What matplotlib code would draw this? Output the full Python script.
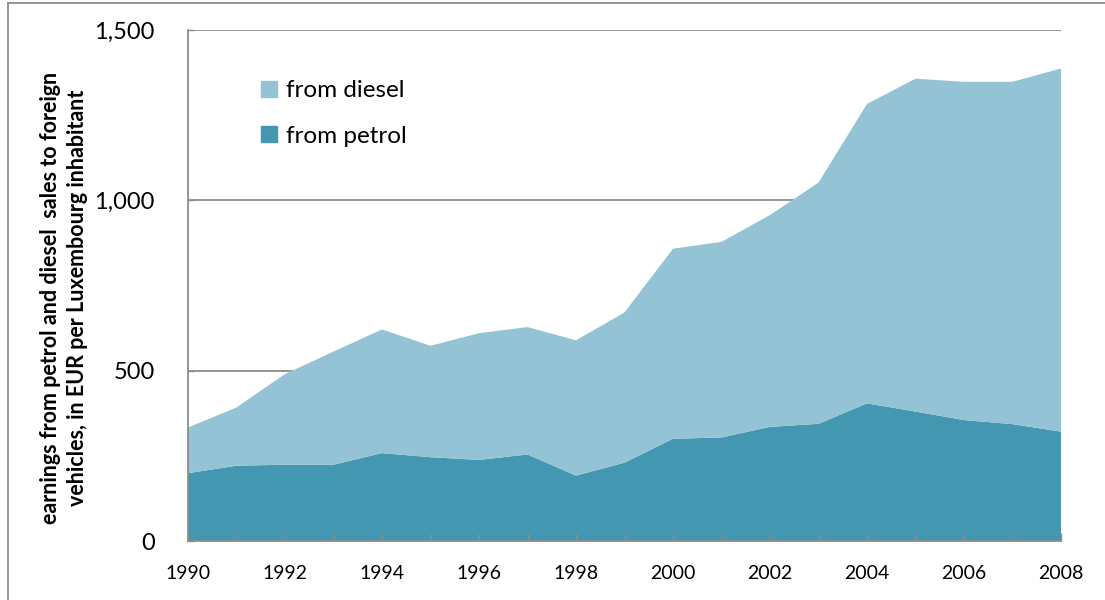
import matplotlib
matplotlib.use("Agg")
import matplotlib.pyplot as plt
import matplotlib.patches as mpatches
from matplotlib.lines import Line2D

years = list(range(1990, 2009))
petrol = [199, 221, 224, 224, 258, 246, 238, 254, 192, 230,
          300, 304, 335, 344, 404, 380, 355, 343, 321]
total = [333, 392, 490, 556, 621, 573, 610, 628, 589, 671,
         858, 878, 957, 1052, 1283, 1357, 1348, 1348, 1387]
diesel = [t - p for t, p in zip(total, petrol)]

y_ticks = [0, 500, 1000, 1500]
x_ticks = list(range(1990, 2009, 2))
ylabel = "earnings from petrol and diesel  sales to foreign\nvehicles, in EUR per Luxembourg inhabitant"

c_petrol = "#4397b0"
c_diesel = "#93c3d4"
grey = "#8c8c8c"

plt.rcParams['font.family'] = ['Lato', 'DejaVu Sans']

fig = plt.figure(figsize=(11.05, 6), dpi=100, facecolor='w')
ax = fig.add_axes([188 / 1105, 1 - 541 / 600, (1061 - 188) / 1105, (541 - 30) / 600])

ax.stackplot(years, petrol, diesel, colors=[c_petrol, c_diesel], linewidth=0, zorder=1)

for v in y_ticks[1:]:
    ax.axhline(v, color=grey, lw=1.3, zorder=0)

ax.set_xlim(years[0], years[-1])
ax.set_ylim(0, 1500)
ax.set_yticks(y_ticks)
ax.set_yticklabels(["{:,}".format(v) for v in y_ticks])
ax.set_xticks(years)
ax.set_xticklabels([str(y) if y in x_ticks else "" for y in years])

for s in ("top", "right"):
    ax.spines[s].set_visible(False)
for s in ("left", "bottom"):
    ax.spines[s].set_color(grey)
    ax.spines[s].set_linewidth(1.3)
    ax.spines[s].set_zorder(3)

ax.tick_params(axis='x', direction='in', length=6, color=grey, width=1, labelsize=14, pad=17)
ax.tick_params(axis='y', direction='in', length=4, color=grey, width=1, labelsize=17, pad=24)

fig.text(64 / 1105, 1 - 298 / 600, ylabel, rotation=90, ha='center', va='center',
         multialignment='center', fontsize=15.5, fontweight='bold', linespacing=1.4)

handles = [mpatches.Patch(color=c_diesel, label="from diesel"),
           mpatches.Patch(color=c_petrol, label="from petrol")]
ax.legend(handles=handles, loc='upper left', bbox_to_anchor=(0.07, 0.925), frameon=False,
          fontsize=17.5, handlelength=0.65, handleheight=0.65, handletextpad=0.35,
          labelspacing=1.0, borderpad=0)

# outer chart frame
fig.add_artist(Line2D([8 / 1105, 8 / 1105], [0, 1 - 3 / 600], color=grey, lw=1.3))
fig.add_artist(Line2D([8 / 1105, 1], [1 - 3 / 600, 1 - 3 / 600], color=grey, lw=1.3))

fig.savefig("out.png", dpi=100)
